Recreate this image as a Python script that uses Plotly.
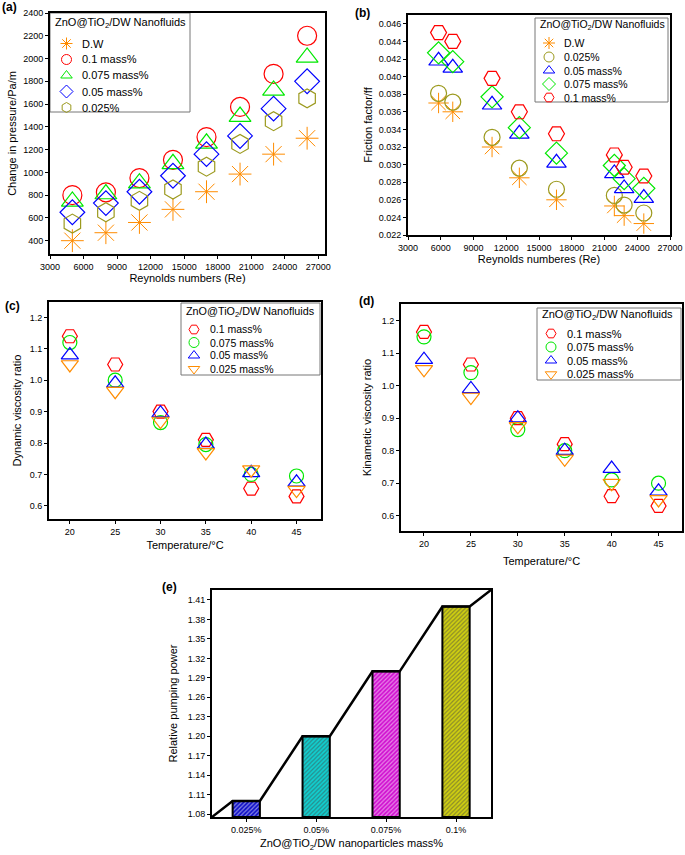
import plotly.graph_objects as go

# ---------------- data ----------------
# (a) pressure drop vs Re
re_a = [5000, 8000, 11000, 14000, 17000, 20000, 23000, 26000]
dp_dw = [400, 470, 560, 675, 830, 985, 1160, 1300]
dp_01 = [800, 825, 950, 1110, 1310, 1575, 1865, 2200]
dp_0075 = [745, 810, 905, 1075, 1255, 1490, 1720, 2010]
dp_005 = [650, 730, 830, 970, 1160, 1320, 1560, 1800]
dp_0025 = [550, 650, 750, 850, 1050, 1250, 1450, 1650]

# (b) friction factor vs Re
re_b = [5800, 7100, 10700, 13200, 16600, 21900, 22800, 24600]
ff_dw = [0.0370, 0.0360, 0.0320, 0.0285, 0.0260, 0.0253, 0.0242, 0.0233]
ff_0025 = [0.0381, 0.0371, 0.0331, 0.0296, 0.0272, 0.0265, 0.0254, 0.0245]
ff_005 = [0.0418, 0.0410, 0.0368, 0.0335, 0.0302, 0.0290, 0.0273, 0.0262]
ff_0075 = [0.0427, 0.0417, 0.0377, 0.0342, 0.0313, 0.0299, 0.0284, 0.0273]
ff_01 = [0.0450, 0.0440, 0.0398, 0.0360, 0.0335, 0.0311, 0.0297, 0.0287]

# (c) dynamic viscosity ratio vs temperature
temp = [20, 25, 30, 35, 40, 45]
dv_01 = [1.14, 1.05, 0.90, 0.81, 0.655, 0.63]
dv_0075 = [1.12, 1.00, 0.865, 0.795, 0.70, 0.695]
dv_005 = [1.08, 0.99, 0.895, 0.795, 0.705, 0.675]
dv_0025 = [1.05, 0.965, 0.87, 0.77, 0.715, 0.65]

# (d) kinematic viscosity ratio vs temperature
kv_01 = [1.165, 1.065, 0.90, 0.82, 0.66, 0.63]
kv_0075 = [1.15, 1.04, 0.865, 0.80, 0.71, 0.70]
kv_005 = [1.08, 0.99, 0.90, 0.80, 0.745, 0.675]
kv_0025 = [1.05, 0.965, 0.875, 0.775, 0.70, 0.65]

# (e) relative pumping power
conc_labels = ["0.025%", "0.05%", "0.075%", "0.1%"]
pump = [1.10, 1.20, 1.30, 1.40]
bar_colors = ["#1010C8", "#10D0D0", "#D010D0", "#D0D010"]

LEG_TITLE = "ZnO@TiO<sub>2</sub>/DW Nanofluids"

# ---------------- styling ----------------
ORANGE = "#FF8C00"
RED = "#FF0000"
GREEN = "#00E800"
BLUE = "#0000FF"
OLIVE = "#9C9A1E"
FONT = "Liberation Sans, Arial, sans-serif"
W, H = 685, 855


def px_x(a, b):
    return [a / W, b / W]


def px_y(top, bottom):
    return [1 - bottom / H, 1 - top / H]


fig = go.Figure()
legend_entries = {}


def sc(x, y, name, sym, color, size, xa, ya, panel, lw=1.2):
    fig.add_trace(go.Scatter(
        x=x, y=y, mode="markers", name=name, xaxis=xa, yaxis=ya, showlegend=False,
        marker=dict(symbol=sym, size=size, color=color,
                    line=dict(color=color, width=lw)),
    ))
    legend_entries.setdefault(panel, []).append((name, sym, color))


# (a)
sc(re_a, dp_dw, "D.W", "asterisk-open", ORANGE, 19, "x", "y", "a", 1.0)
sc(re_a, dp_01, "0.1 mass%", "circle-open", RED, 19, "x", "y", "a")
sc(re_a, dp_0075, "0.075 mass%", "triangle-up-open", GREEN, 19, "x", "y", "a")
sc(re_a, dp_005, "0.05 mass%", "diamond-open", BLUE, 19, "x", "y", "a")
sc(re_a, dp_0025, "0.025%", "hexagon-open", OLIVE, 19, "x", "y", "a")

# (b)
sc(re_b, ff_dw, "D.W", "asterisk-open", ORANGE, 17, "x2", "y2", "b", 1.0)
sc(re_b, ff_0025, "0.025%", "circle-open", OLIVE, 16, "x2", "y2", "b")
sc(re_b, ff_005, "0.05 mass%", "triangle-up-open", BLUE, 17, "x2", "y2", "b")
sc(re_b, ff_0075, "0.075 mass%", "diamond-open", GREEN, 17, "x2", "y2", "b")
sc(re_b, ff_01, "0.1 mass%", "hexagon2-open", RED, 16, "x2", "y2", "b")

# (c)
sc(temp, dv_01, "0.1 mass%", "hexagon2-open", RED, 15, "x3", "y3", "c")
sc(temp, dv_0075, "0.075 mass%", "circle-open", GREEN, 14, "x3", "y3", "c")
sc(temp, dv_005, "0.05 mass%", "triangle-up-open", BLUE, 15, "x3", "y3", "c")
sc(temp, dv_0025, "0.025 mass%", "triangle-down-open", ORANGE, 15, "x3", "y3", "c")

# (d)
sc(temp, kv_01, "0.1 mass%", "hexagon2-open", RED, 15, "x4", "y4", "d")
sc(temp, kv_0075, "0.075 mass%", "circle-open", GREEN, 14, "x4", "y4", "d")
sc(temp, kv_005, "0.05 mass%", "triangle-up-open", BLUE, 15, "x4", "y4", "d")
sc(temp, kv_0025, "0.025 mass%", "triangle-down-open", ORANGE, 15, "x4", "y4", "d")

# (e) bars
BW = 0.39
idx = list(range(len(pump)))
x5_range = [-0.49, 3.5]
y5_range = [1.0754, 1.4254]
fig.add_trace(go.Bar(
    x=idx, y=[p - y5_range[0] for p in pump], base=y5_range[0], width=BW,
    xaxis="x5", yaxis="y5", showlegend=False,
    marker=dict(color=bar_colors, line=dict(color="black", width=2),
                pattern=dict(shape="/", fillmode="overlay", fgcolor="#1a1a1a",
                             size=3, solidity=0.4)),
))
# stepped outline line joining bar tops
lx = [x5_range[0]]
ly = [y5_range[0]]
for i, p in zip(idx, pump):
    lx += [i - BW / 2, i + BW / 2]
    ly += [p, p]
lx.append(x5_range[1])
ly.append(y5_range[1])
fig.add_trace(go.Scatter(x=lx, y=ly, mode="lines", xaxis="x5", yaxis="y5",
                         showlegend=False, cliponaxis=False,
                         line=dict(color="black", width=2.5)))

# ---------------- legend boxes (drawn on a pixel overlay axis) ----------------
# box (x0, y0, x1, y1), title y, symbol x, text x, row ys, font size, title size
legend_layout = {
    "a": ((50, 13, 190, 112), 23, 66.5, 80, [43.5, 59.5, 75.5, 91.5, 107.5], 11, 11),
    "b": ((535, 18, 668, 102), 25, 549, 562, [43, 57, 70.5, 84, 97.5], 10.5, 10.5),
    "c": ((181, 303, 320, 375), 312, 194, 208, [329.5, 342.5, 355.5, 369], 10.5, 10.8),
    "d": ((537, 308, 681, 380), 315, 551, 565, [333.5, 347, 360.5, 374.3], 11, 11),
}
for panel, (box, ty, sx, tx, rows, fs, tfs) in legend_layout.items():
    x0, y0, x1, y1 = box
    fig.add_shape(type="rect", xref="paper", yref="paper",
                  x0=x0 / W, x1=x1 / W, y0=1 - y1 / H, y1=1 - y0 / H,
                  line=dict(color="#777777", width=1), fillcolor="white", layer="below")
    fig.add_annotation(text=LEG_TITLE, x=(x0 + 3) / W, y=1 - ty / H, xref="paper", yref="paper",
                       xanchor="left", yanchor="middle", showarrow=False,
                       font=dict(family=FONT, size=tfs, color="black"))
    for (name, sym, color), ry in zip(legend_entries[panel], rows):
        fig.add_trace(go.Scatter(
            x=[sx], y=[ry], mode="markers", xaxis="x6", yaxis="y6", showlegend=False,
            hoverinfo="skip", cliponaxis=False,
            marker=dict(symbol=sym, size=10, color=color, line=dict(color=color, width=1)),
        ))
        fig.add_annotation(text=name, x=tx / W, y=1 - ry / H, xref="paper", yref="paper",
                           xanchor="left", yanchor="middle", showarrow=False,
                           font=dict(family=FONT, size=fs, color="black"))

axis_common = dict(showline=True, linecolor="black", linewidth=2, mirror=True,
                   ticks="outside", ticklen=3, tickwidth=1, tickcolor="black",
                   showgrid=False, zeroline=False, automargin=False,
                   tickfont=dict(family=FONT, size=9, color="black"))
title_font = dict(family=FONT, size=11, color="black")

fig.update_layout(
    width=W, height=H, margin=dict(l=0, r=0, t=0, b=0, autoexpand=False),
    paper_bgcolor="white", plot_bgcolor="rgba(0,0,0,0)", showlegend=False,
    font=dict(family=FONT, color="black"),
    xaxis=dict(axis_common, domain=px_x(50, 325), range=[3000, 27600],
               tickvals=list(range(3000, 27001, 3000)), tickformat="d", anchor="y",
               title=dict(text="Reynolds numbers (Re)", font=title_font, standoff=3)),
    yaxis=dict(axis_common, domain=px_y(13, 254), range=[283, 2400],
               tickvals=list(range(400, 2401, 200)), anchor="x",
               title=dict(text="Change in pressure/Pa/m", font=title_font, standoff=4)),
    xaxis2=dict(axis_common, domain=px_x(408, 670), range=[3000, 27000],
                tickvals=list(range(3000, 27001, 3000)), tickformat="d", anchor="y2",
                title=dict(text="Reynolds numberes (Re)", font=title_font, standoff=2)),
    yaxis2=dict(axis_common, domain=px_y(15, 235), range=[0.022, 0.047],
                tickvals=[0.022 + 0.002 * i for i in range(13)], tickformat=".3f",
                anchor="x2",
                title=dict(text="Friction factor/ff", font=title_font, standoff=4)),
    xaxis3=dict(axis_common, domain=px_x(49, 321), range=[17.7, 47.7],
                tickvals=temp, anchor="y3",
                title=dict(text="Temperature/°C", font=title_font, standoff=6)),
    yaxis3=dict(axis_common, domain=px_y(302, 519), range=[0.558, 1.249],
                tickvals=[0.6, 0.7, 0.8, 0.9, 1.0, 1.1, 1.2], tickformat=".1f",
                anchor="x3",
                title=dict(text="Dynamic viscosity ratio", font=title_font, standoff=6)),
    xaxis4=dict(axis_common, domain=px_x(401, 682), range=[17.55, 47.5],
                tickvals=temp, anchor="y4",
                title=dict(text="Temperature/°C", font=title_font, standoff=10)),
    yaxis4=dict(axis_common, domain=px_y(304, 531), range=[0.553, 1.251],
                tickvals=[0.6, 0.7, 0.8, 0.9, 1.0, 1.1, 1.2], tickformat=".1f",
                anchor="x4",
                title=dict(text="Kinametic viscosity ratio", font=title_font, standoff=8)),
    xaxis5=dict(axis_common, domain=px_x(212, 491), range=x5_range,
                tickvals=idx, ticktext=conc_labels, anchor="y5",
                title=dict(text="ZnO@TiO<sub>2</sub>/DW nanoparticles mass%",
                           font=title_font, standoff=6)),
    yaxis5=dict(axis_common, domain=px_y(590, 817), range=y5_range,
                tickvals=[round(1.08 + 0.03 * i, 2) for i in range(12)],
                tickformat=".2f", anchor="x5",
                title=dict(text="Relative pumping power", font=title_font, standoff=8)),
    xaxis6=dict(domain=[0, 1], range=[0, W], visible=False, fixedrange=True, anchor="y6"),
    yaxis6=dict(domain=[0, 1], range=[H, 0], visible=False, fixedrange=True, anchor="x6"),
)

labels = [("(a)", 0, 7), ("(b)", 353, 13), ("(c)", 3, 306), ("(d)", 357, 301), ("(e)", 160, 587)]
for t, x, y in labels:
    fig.add_annotation(text=f"<b>{t}</b>", x=x / W, y=1 - y / H, xref="paper", yref="paper",
                       xanchor="left", yanchor="middle", showarrow=False,
                       font=dict(family=FONT, size=12, color="black"))

fig.write_html("out.html", config={"displayModeBar": False},
               post_script="document.body.style.margin='0px';document.body.style.padding='0px';")
